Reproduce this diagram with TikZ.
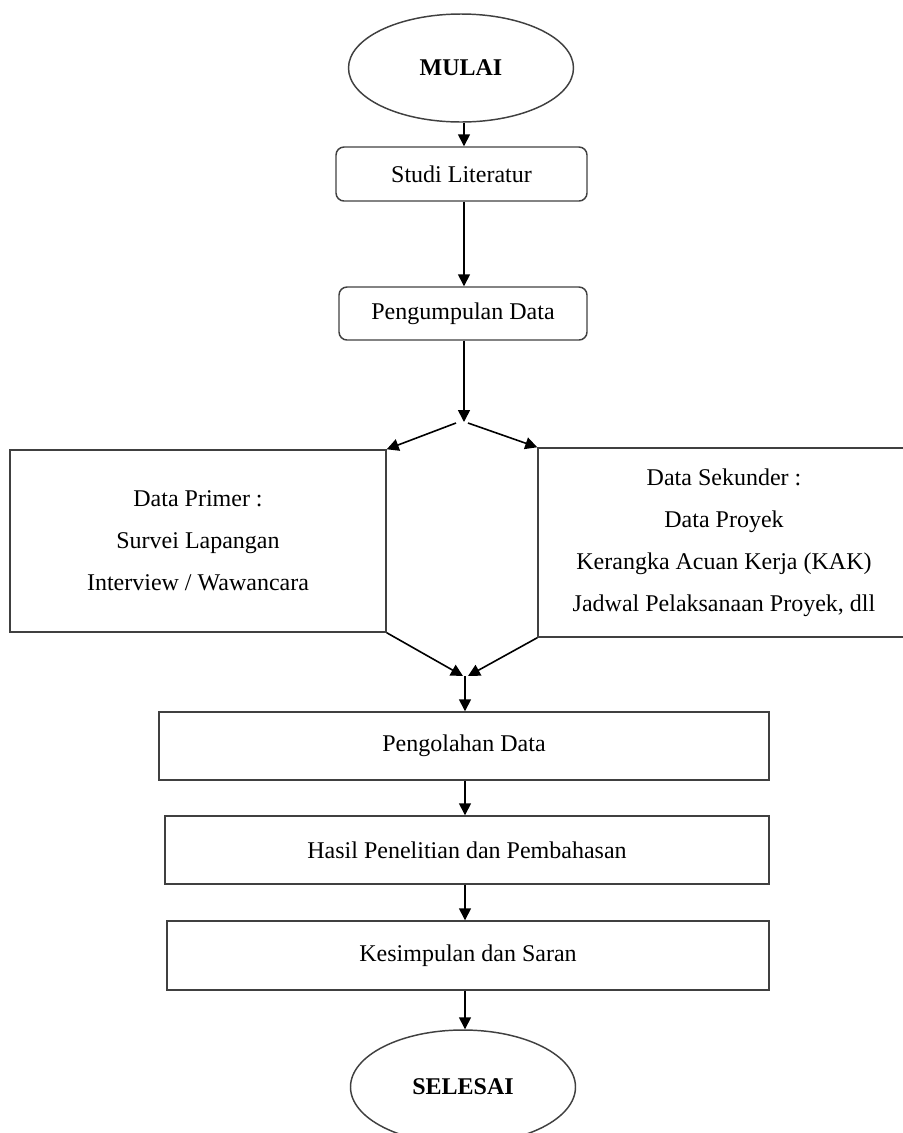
\documentclass[tikz,border=0pt]{standalone}
\usepackage{fontspec}
\setmainfont{Liberation Serif}
\usetikzlibrary{arrows.meta,shapes.geometric}
\begin{document}
\begin{tikzpicture}[x=0.75pt,y=-0.75pt,
  every node/.style={font=\fontsize{18}{31.5}\selectfont, inner sep=0pt},
  boxline/.style={draw=black!75, line width=1.1pt},
  roundbox/.style={boxline, rounded corners=6pt},
  oval/.style={ellipse, boxline, font=\fontsize{18}{22}\selectfont\bfseries},
  arr/.style={-{Triangle[length=9pt,width=9pt]}, line width=1.2pt, black}]
\useasboundingbox (0,0) rectangle (903,1133);
\clip (0,0) rectangle (903,1133);
\node[oval, minimum width=168.75pt, minimum height=81pt] (mulai) at (461,68) {MULAI};
\node[roundbox, minimum width=188.25pt, minimum height=40.5pt] (studi) at (461.5,174) {Studi Literatur};
\node[roundbox, minimum width=186pt, minimum height=39.75pt] (kumpul) at (463,313.5) {Pengumpulan Data};
\node[boxline, minimum width=282pt, minimum height=136.5pt, align=center] (primer) at (198,541) {Data Primer :\\Survei Lapangan\\Interview / Wawancara};
\node[boxline, minimum width=279pt, minimum height=141.75pt, align=center] (sekunder) at (724,542.5) {Data Sekunder :\\Data Proyek\\Kerangka Acuan Kerja (KAK)\\Jadwal Pelaksanaan Proyek, dll};
\node[boxline, minimum width=457.5pt, minimum height=51pt] (olah) at (464,746) {Pengolahan Data};
\node[boxline, minimum width=453pt, minimum height=51pt] (hasil) at (467,850) {Hasil Penelitian dan Pembahasan};
\node[boxline, minimum width=451.5pt, minimum height=51.75pt] (simpul) at (468,955.5) {Kesimpulan dan Saran};
\node[oval, minimum width=168.75pt, minimum height=85.5pt] (selesai) at (463,1087) {SELESAI};
\coordinate (split) at (464,422);
\coordinate (sl) at (456,423);
\coordinate (sr) at (468,423);
\coordinate (mergeL) at (463,676);
\coordinate (mergeR) at (468,676);
\coordinate (merge) at (465,676);
\draw[arr] (mulai.south -| 464,0) -- (studi.north -| 464,0);
\draw[arr] (studi.south -| 464,0) -- (kumpul.north -| 464,0);
\draw[arr] (kumpul.south -| split) -- (split);
\draw[arr] (sl) -- (primer.north east);
\draw[arr] (sr) -- (sekunder.north west);
\draw[arr] (primer.south east) -- (mergeL);
\draw[arr] (sekunder.south west) -- (mergeR);
\draw[arr] (merge) -- (merge |- olah.north);
\draw[arr] (olah.south -| merge) -- (merge |- hasil.north);
\draw[arr] (hasil.south -| merge) -- (merge |- simpul.north);
\draw[arr] (simpul.south -| merge) -- (merge |- selesai.north);
\end{tikzpicture}
\end{document}
